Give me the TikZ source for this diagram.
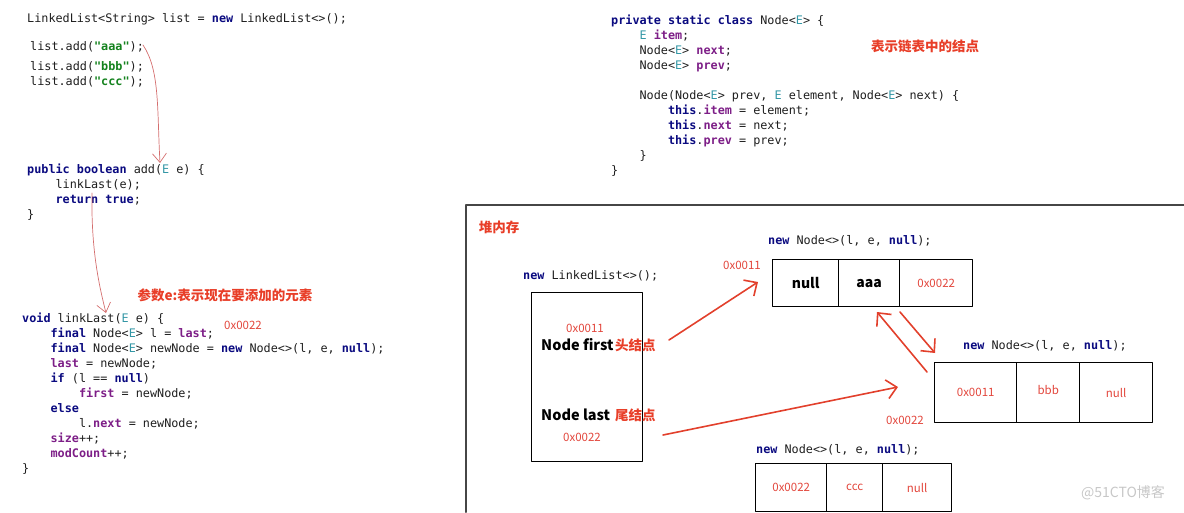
\documentclass[tikz,border=0pt]{standalone}
\usepackage{fontspec}
\setmonofont{DejaVu Sans Mono}
\newfontfamily\cjk{Noto Sans CJK SC}
\usetikzlibrary{arrows.meta}

\definecolor{kwblue}{RGB}{10,10,128}
\definecolor{fldpurple}{RGB}{125,30,135}
\definecolor{tpteal}{RGB}{50,150,165}
\definecolor{strgreen}{RGB}{20,130,30}
\definecolor{codegray}{RGB}{30,30,30}
\definecolor{memored}{RGB}{232,62,40}
\definecolor{addrred}{RGB}{226,70,60}
\definecolor{arrowred}{RGB}{226,64,44}
\definecolor{penred}{RGB}{212,110,110}
\definecolor{framegray}{RGB}{70,70,70}

% java colouring
\newcommand\jkw[1]{\textcolor{kwblue}{\textbf{#1}}}
\newcommand\jfld[1]{\textcolor{fldpurple}{\textbf{#1}}}
\newcommand\jtp{\textcolor{tpteal}{E}}
\newcommand\jstr[1]{\textcolor{strgreen}{\textbf{"#1"}}}
\newcommand\ind{\phantom{xxxx}}

\begin{document}
\begin{tikzpicture}[x=1pt, y=-1pt, line join=round, line cap=round,
	code/.style={font=\ttfamily\fontsize{11.8}{15}\selectfont, text=codegray, align=left, anchor=north west, inner sep=0pt},
	memo/.style={font=\cjk\bfseries\fontsize{13.5}{16}\selectfont, text=memored, inner sep=0pt},
	addr/.style={font=\cjk\fontsize{11.5}{13}\selectfont, text=addrred, inner sep=0pt},
	field/.style={font=\cjk\bfseries\fontsize{14.5}{17}\selectfont, text=black, inner sep=0pt, anchor=west},
	cell/.style={draw, line width=1.4pt, anchor=north west, inner sep=0pt, minimum height=#1},
	ptr/.style={draw=arrowred, line width=1.6pt, -{Straight Barb[length=10pt,width=19pt]}},
	pen/.style={draw=penred, line width=0.7pt, -{Straight Barb[length=9pt,width=14pt]}}]
	\useasboundingbox (0,0) rectangle (1184,512);
	\clip (0,0) rectangle (1184,512);

	% left: calling code
	\node[code] (newlist) at (27,13) {LinkedList<String> list = \jkw{new} LinkedList<>();};
	\node[code] (adda) at (30,41) {list.add(\jstr{aaa});};
	\node[code] (addbc) at (30,61) {list.add(\jstr{bbb});\\list.add(\jstr{ccc});};
	\node[code] (addm) at (27,164) {\jkw{public} \jkw{boolean} add(\jtp{} e) \{\\
		\ind linkLast(e);\\
		\ind\jkw{return} \jkw{true};\\
		\}};
	\node[code] (linkl) at (22,313) {\jkw{void} linkLast(\jtp{} e) \{\\
		\ind\jkw{final} Node<\jtp> l = \jfld{last};\\
		\ind\jkw{final} Node<\jtp> newNode = \jkw{new} Node<>(l, e, \jkw{null});\\
		\ind\jfld{last} = newNode;\\
		\ind\jkw{if} (l == \jkw{null})\\
		\ind\ind\jfld{first} = newNode;\\
		\ind\jkw{else}\\
		\ind\ind l.\jfld{next} = newNode;\\
		\ind\jfld{size}++;\\
		\ind\jfld{modCount}++;\\
		\}};
	\node[memo] (parammemo) at (225,295) {参数e:表示现在要添加的元素};
	\node[addr] (lastaddr) at (243,325) {0x0022};

	% hand drawn hints
	\coordinate (aaaend) at (143,45);
	\coordinate (addarg) at (160,163);
	\coordinate (retstart) at (92,193);
	\coordinate (linkarg) at (106,313);
	\draw[pen] (aaaend) .. controls (160,70) and (157,110) .. (addarg);
	\draw[pen] (retstart) .. controls (91,250) and (99,285) .. (linkarg);

	% right: Node class
	\node[code] (nodecls) at (611,15) {\jkw{private} \jkw{static} \jkw{class} Node<\jtp> \{\\
		\ind\jtp{} \jfld{item};\\
		\ind Node<\jtp> \jfld{next};\\
		\ind Node<\jtp> \jfld{prev};\\
		\mbox{}\\
		\ind Node(Node<\jtp> prev, \jtp{} element, Node<\jtp> next) \{\\
		\ind\ind\jkw{this}.\jfld{item} = element;\\
		\ind\ind\jkw{this}.\jfld{next} = next;\\
		\ind\ind\jkw{this}.\jfld{prev} = prev;\\
		\ind\}\\
		\}};
	\node[memo] (nodememo) at (925,46) {表示链表中的结点};

	% heap
	\draw[line width=2pt, framegray] (466,512) -- (466,205) -- (1184,205);
	\node[memo] (heap) at (499,227) {堆内存};

	\node[code] (listnew) at (523,270) {\jkw{new} LinkedList<>();};
	\node[draw, line width=1.4pt, anchor=north west, minimum width=111pt, minimum height=169pt] (listbox) at (531,292) {};
	\node[addr] (firstaddr) at (585,328) {0x0011};
	\node[field] (firstfld) at (541,345) {Node first};
	\node[memo, anchor=west] (firsthead) at (615,345) {头结点};
	\node[field] (lastfld) at (541,415) {Node last};
	\node[memo, anchor=west] (lasttail) at (615,415) {尾结点};
	\node[addr] (lastaddr2) at (582,437) {0x0022};

	% node aaa
	\node[code] (aaanew) at (768,235) {\jkw{new} Node<>(l, e, \jkw{null});};
	\node[addr] (aaaaddr) at (742,265) {0x0011};
	\node[cell=47pt, minimum width=66pt, font=\cjk\bfseries\fontsize{14}{16}\selectfont] (aprev) at (772,259) {null};
	\node[cell=47pt, minimum width=61pt, font=\cjk\bfseries\fontsize{14}{16}\selectfont] (aitem) at (838,259) {aaa};
	\node[cell=47pt, minimum width=73pt, addr] (anext) at (899,259) {0x0022};

	% node bbb
	\node[code] (bbbnew) at (963,340) {\jkw{new} Node<>(l, e, \jkw{null});};
	\node[addr] (bbbaddr) at (905,420) {0x0022};
	\node[cell=60pt, minimum width=82pt, addr] (bprev) at (934,362) {0x0011};
	\node[cell=60pt, minimum width=63pt, addr, text depth=6pt] (bitem) at (1016,362) {bbb};
	\node[cell=60pt, minimum width=73pt, addr] (bnext) at (1079,362) {null};

	% node ccc
	\node[code] (cccnew) at (756,444) {\jkw{new} Node<>(l, e, \jkw{null});};
	\node[cell=48pt, minimum width=71pt, addr] (cprev) at (755,463) {0x0022};
	\node[cell=48pt, minimum width=56pt, addr] (citem) at (826,463) {ccc};
	\node[cell=48pt, minimum width=69pt, addr] (cnext) at (882,463) {null};

	% pointers
	\coordinate (ftail) at (669,340);
	\coordinate (fhead) at (758,282);
	\coordinate (ltail) at (663,435);
	\coordinate (lhead) at (898,387);
	\coordinate (ntail) at (900,312);
	\coordinate (nhead) at (935,353);
	\coordinate (ptail) at (927,372);
	\coordinate (phead) at (877,312);
	\draw[ptr] (ftail) -- (fhead);
	\draw[ptr] (ltail) -- (lhead);
	\draw[ptr] (ntail) -- (nhead);
	\draw[ptr] (ptail) -- (phead);

	\node[font=\cjk\fontsize{14}{16}\selectfont, text=black!22] (mark) at (1123,493) {@51CTO博客};
\end{tikzpicture}
\end{document}
